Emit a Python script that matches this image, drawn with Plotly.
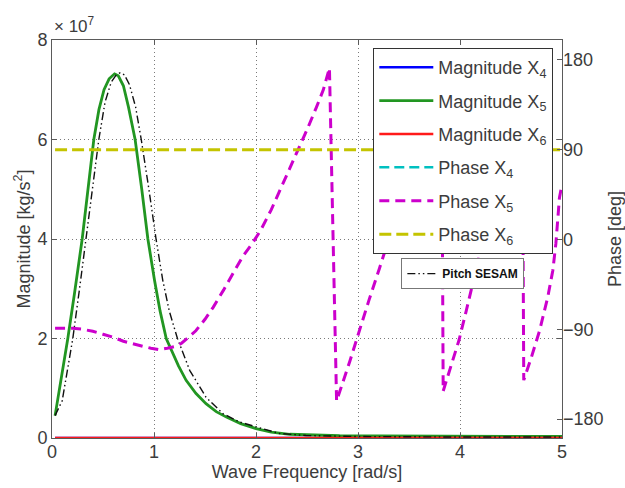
import plotly.graph_objects as go

# Wave frequency grids [rad/s]
freq_x5 = [0.03, 0.08, 0.155, 0.22, 0.296, 0.35, 0.41, 0.46, 0.51, 0.56, 0.613, 0.65,
           0.70, 0.75, 0.815, 0.88, 0.94, 1.005, 1.06, 1.12, 1.17, 1.24, 1.315, 1.41,
           1.51, 1.61, 1.71, 1.85, 2.0, 2.15, 2.33, 2.55, 2.82, 3.2, 4.0, 5.0]
# Magnitude X5 [x 1e7 kg/s^2]
mag_x5 = [0.45, 1.05, 2.0, 2.9, 4.0, 4.95, 6.0, 6.6, 7.0, 7.22, 7.32, 7.28,
          7.08, 6.65, 6.0, 5.0, 4.0, 3.17, 2.55, 2.0, 1.78, 1.45, 1.16, 0.9,
          0.69, 0.53, 0.42, 0.29, 0.19, 0.12, 0.075, 0.055, 0.045, 0.04, 0.035, 0.03]

freq_sesam = [0.03, 0.1, 0.15, 0.204, 0.27, 0.335, 0.4, 0.459, 0.52, 0.58, 0.63, 0.668,
              0.71, 0.76, 0.82, 0.875, 0.95, 1.02, 1.086, 1.15, 1.23, 1.35, 1.51, 1.675,
              1.84, 2.0, 2.23, 2.49, 3.0, 4.0, 5.0]
# Pitch magnitude from SESAM [x 1e7 kg/s^2]
mag_sesam = [0.45, 0.75, 1.35, 2.0, 3.0, 4.0, 5.05, 6.0, 6.75, 7.15, 7.3, 7.34,
             7.3, 7.1, 6.65, 6.0, 5.0, 4.0, 3.17, 2.55, 2.0, 1.36, 0.82, 0.49,
             0.32, 0.22, 0.09, 0.05, 0.03, 0.02, 0.02]

freq_phase = [0.03, 0.1, 0.2, 0.3, 0.4, 0.5, 0.6, 0.7, 0.8, 0.89, 0.97, 1.05, 1.13, 1.2,
              1.27, 1.34, 1.41, 1.5, 1.58, 1.68, 1.77, 1.87, 1.97, 2.05, 2.15, 2.26,
              2.39, 2.5, 2.59, 2.66, 2.72, 2.79, 2.92, 3.01, 3.11, 3.21, 3.3, 3.4, 3.5,
              3.6, 3.7, 3.82, 3.835, 3.9, 3.99, 4.06, 4.13, 4.2, 4.3, 4.4, 4.5, 4.61,
              4.625, 4.70, 4.78, 4.86, 4.91, 4.94, 4.975, 4.99]
# Phase X5 [deg]
phase_x5 = [-89, -89, -89, -90, -92, -95, -98, -102, -105, -107, -109, -110.5, -109, -107.5,
            -104, -98, -91.5, -80, -68, -51, -34.5, -17, -3, 10, 30, 55,
            85, 110, 132, 150, 172, -162, -122, -91.5, -60, -29, 0, 32, 63,
            95, 127, 166, -152, -130, -101, -72, -41, -12, 30, 70, 110, 165,
            -141, -118, -91.5, -58, -31, -4, 42, 50]

freq_flat = [0.03, 5.0]
mag_x4 = [0.0, 0.0]
mag_x6 = [0.0, 0.0]
phase_x4 = [None, None]
phase_x6 = [90.0, 90.0]

x_ticks = [0, 1, 2, 3, 4, 5]
mag_ticks = [0, 2, 4, 6, 8]
phase_ticks = [-180, -90, 0, 90, 180]

FONT = "Liberation Sans, Arial, sans-serif"
TXT = "#3c3c3c"
AX = "#5a5a5a"
GRID = "#7a7a7a"

fig = go.Figure()

def add(x, y, name, color, width, dash="solid", axis="y", legend="legend"):
    fig.add_trace(go.Scatter(
        x=x, y=y, name=name, mode="lines", yaxis=axis,
        line=dict(color=color, width=width, dash=dash),
        legendgroup=name, legend=legend,
    ))

add(freq_flat, mag_x4, "Magnitude X<sub>4</sub>", "#0000ff", 2.5)
add(freq_x5, mag_x5, "Magnitude X<sub>5</sub>", "#229622", 2.8)
add(freq_flat, mag_x6, "Magnitude X<sub>6</sub>", "#ff1a1a", 2.5)
add(freq_sesam, mag_sesam, "Pitch SESAM", "#111111", 1.4,
    dash="8px,3px,1.5px,3px,1.5px,3px", legend="legend2")
add(freq_flat, phase_x4, "Phase X<sub>4</sub>", "#00c0c0", 2.5, dash="10px,5px", axis="y2")
add(freq_phase, phase_x5, "Phase X<sub>5</sub>", "#cc00cc", 3, dash="10px,6px", axis="y2")
add(freq_flat, phase_x6, "Phase X<sub>6</sub>", "#c4c400", 3, dash="12px,5px", axis="y2")

fig.update_layout(
    width=625, height=488,
    margin=dict(l=52, r=63, t=40, b=50),
    paper_bgcolor="white", plot_bgcolor="white",
    font=dict(family=FONT, size=18, color=TXT),
    showlegend=True,
    xaxis=dict(
        range=[0, 5], tickvals=x_ticks, showgrid=True, gridcolor=GRID,
        griddash="1px,3px", gridwidth=1, zeroline=False, showline=True, linecolor=AX,
        linewidth=1, mirror="ticks", ticks="inside", ticklen=5, tickcolor=AX,
        tickfont=dict(size=18), automargin=False, ticklabelstandoff=-3,
        title=dict(text="Wave Frequency [rad/s]", standoff=0, font=dict(size=18)),
    ),
    yaxis=dict(
        range=[0, 8], tickvals=mag_ticks, showgrid=True, gridcolor=GRID,
        griddash="1px,3px", gridwidth=1, zeroline=False, showline=True, linecolor=AX,
        linewidth=1, mirror="ticks", ticks="inside", ticklen=5, tickcolor=AX,
        tickfont=dict(size=18), automargin=False,
        title=dict(text="Magnitude [kg/s<sup>2</sup>]", standoff=2, font=dict(size=18)),
    ),
    yaxis2=dict(
        range=[-199, 200], tickvals=phase_ticks, overlaying="y", side="right",
        showgrid=False, zeroline=False, showline=False, ticks="inside",
        ticklen=5, tickcolor=AX, tickfont=dict(size=18), automargin=False,
        title=dict(text="Phase [deg]", standoff=6, font=dict(size=18)),
    ),
    legend=dict(
        x=0.63, y=0.98, xanchor="left", yanchor="top",
        bgcolor="white", bordercolor="#333", borderwidth=1,
        font=dict(size=18, color=TXT), tracegroupgap=7, itemwidth=54,
        traceorder="grouped",
    ),
    legend2=dict(
        x=0.685, y=0.452, xanchor="left", yanchor="top",
        bgcolor="white", bordercolor="#777", borderwidth=1,
        font=dict(size=12, color="#111", family=FONT, weight="bold"),
        itemwidth=30,
    ),
    annotations=[dict(
        text="× 10<sup>7</sup>", xref="paper", yref="paper", x=0, y=1,
        xanchor="left", yanchor="bottom", showarrow=False, yshift=2,
        font=dict(size=17, color=TXT),
    )],
)

fig.write_html("out.html")
